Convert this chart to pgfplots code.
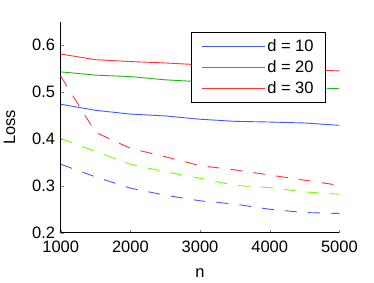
\documentclass[border=0pt]{standalone}
\usepackage{pgfplots}
\pgfplotsset{compat=1.18}
\usepackage{fontspec}
\setmainfont{Liberation Sans}
\definecolor{mblue}{rgb}{0.25,0.35,1}
\definecolor{mgreen}{rgb}{0.15,0.7,0.1}
\definecolor{mred}{rgb}{1,0.2,0.2}
\definecolor{mlime}{rgb}{0.45,1,0}
\newcommand\f{\fontsize{16.5}{19}\selectfont}
\begin{document}
\begin{tikzpicture}
\begin{axis}[
  scale only axis, width=278.7pt, height=211pt,
  xmin=1000, xmax=5000, ymin=0.2, ymax=0.65,
  axis x line*=bottom, axis y line*=left,
  axis line style={line width=0.6pt},
  tick align=inside, major tick length=3pt,
  xtick={1000,2000,3000,4000,5000},
  ytick={0.2,0.3,0.4,0.5,0.6},
  /pgf/number format/assume math mode=true,
  xticklabel style={/pgf/number format/1000 sep={}, yshift=-5pt},
  yticklabel style={/pgf/number format/fixed,/pgf/number format/precision=1, xshift=-2pt},
  tick label style={font=\f},
  label style={font=\f},
  xlabel={n}, ylabel={Loss},
  xlabel style={yshift=-9pt},
  ylabel style={yshift=10pt},
  legend style={at={(axis description cs:0.9516,0.950)}, anchor=north east,
    font=\f, draw=black, line width=0.6pt, inner xsep=10pt, inner ysep=5pt,
    row sep=3.5pt},
  legend cell align=left,
  legend image code/.code={\draw[#1, line width=0.9pt] (0pt,0pt) -- (63pt,0pt);},
  every axis plot/.append style={line width=0.9pt},
]
\addplot[mblue] coordinates {(1000,0.474) (1500,0.461) (2000,0.453) (2500,0.449) (3000,0.442) (3500,0.4375) (4000,0.436) (4500,0.434) (5000,0.429)};
\addlegendentry{d = 10}
\addplot[mgreen] coordinates {(1000,0.543) (1500,0.536) (2000,0.533) (2500,0.526) (3000,0.522) (3500,0.518) (4000,0.514) (4500,0.510) (5000,0.507)};
\addlegendentry{d = 20}
\addplot[mred] coordinates {(1000,0.581) (1500,0.569) (2000,0.565) (2500,0.562) (3000,0.558) (3500,0.555) (4000,0.551) (4500,0.548) (5000,0.545)};
\addlegendentry{d = 30}
\addplot[mred, dash pattern=on 12pt off 11pt, forget plot] coordinates {(1000,0.534) (1500,0.414) (2000,0.380) (2500,0.362) (3000,0.343) (3500,0.334) (4000,0.323) (4500,0.312) (5000,0.301)};
\addplot[mlime, dash pattern=on 12pt off 11pt, forget plot] coordinates {(1000,0.401) (1500,0.373) (2000,0.346) (2500,0.330) (3000,0.316) (3500,0.301) (4000,0.296) (4500,0.287) (5000,0.282)};
\addplot[mblue, dash pattern=on 12pt off 11pt, forget plot] coordinates {(1000,0.346) (1500,0.319) (2000,0.295) (2500,0.280) (3000,0.268) (3500,0.261) (4000,0.250) (4500,0.243) (5000,0.241)};
\end{axis}
\pgfresetboundingbox
\path[use as bounding box] (-60.7pt,-50.3pt) rectangle (313.3pt,232.7pt);
\end{tikzpicture}
\end{document}
